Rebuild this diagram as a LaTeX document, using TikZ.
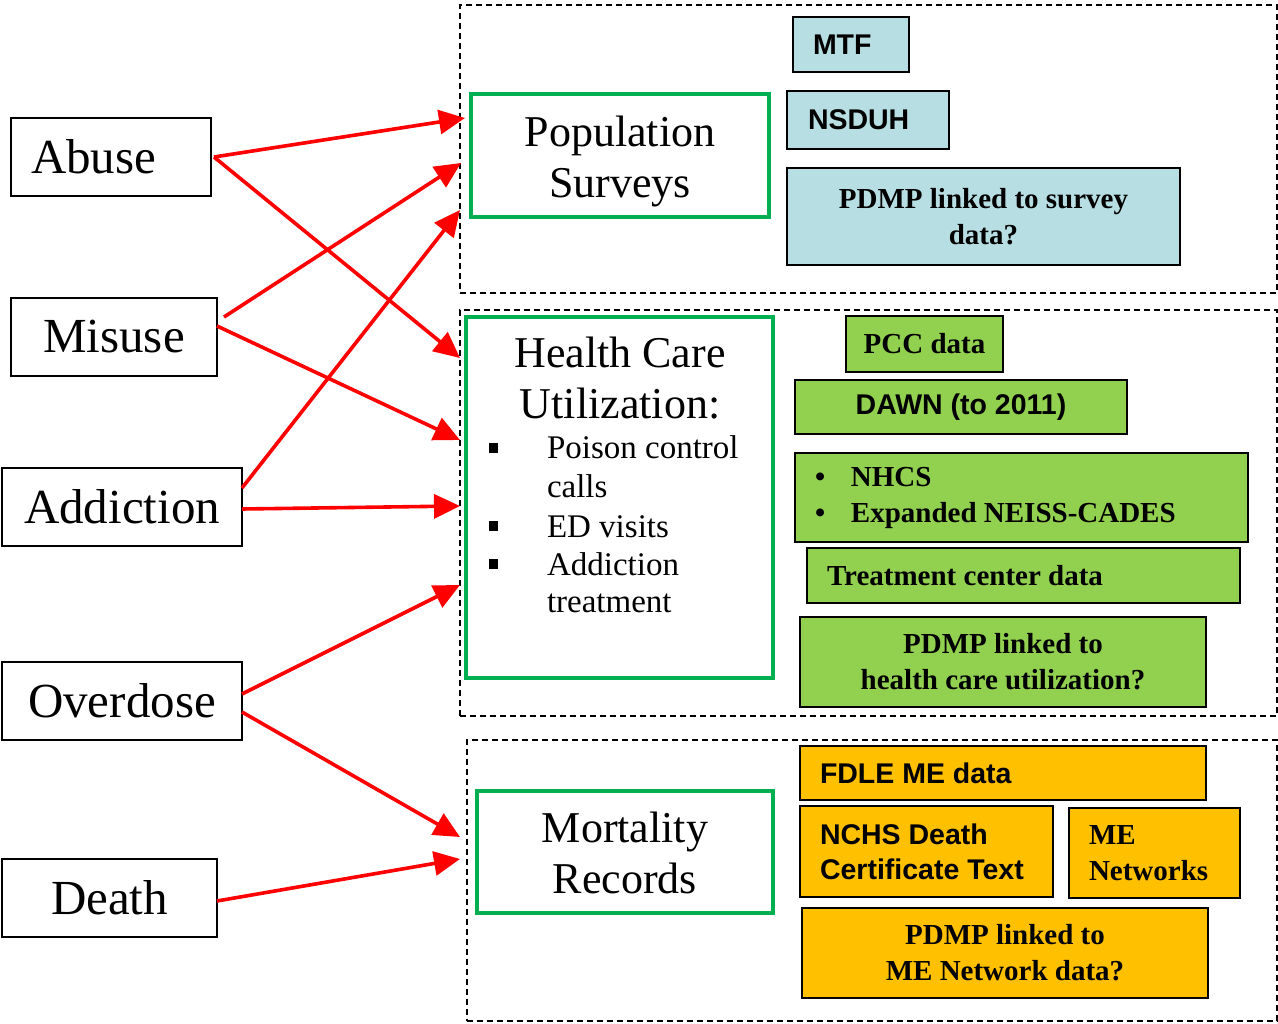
\documentclass[tikz,border=0pt]{standalone}
\usepackage{fontspec}
\setmainfont{Liberation Serif}
\newfontfamily\sansfam{Liberation Sans}
\usetikzlibrary{arrows.meta}
\definecolor{bluefill}{RGB}{183,222,226}
\definecolor{greenfill}{RGB}{146,208,80}
\definecolor{orangefill}{RGB}{255,192,0}
\definecolor{greenline}{RGB}{0,176,80}
\definecolor{redline}{RGB}{255,0,0}
\begin{document}
\begin{tikzpicture}[x=1pt,y=-1pt,
  every node/.style={inner sep=0pt, outer sep=0pt},
  srcbox/.style={draw=black, line width=1.6pt, rectangle, minimum height=78, font=\fontsize{49}{56}\selectfont},
  catbox/.style={draw=greenline, line width=3.2pt},
  grp/.style={draw=black, line width=1.2pt, dash pattern=on 6pt off 4pt},
  databox/.style={draw=black, line width=1.6pt},
  serb/.style={font=\fontsize{29}{36}\selectfont\bfseries},
  sanb/.style={font=\fontsize{28.5}{35}\selectfont\sansfam\bfseries},
  hctitle/.style={font=\fontsize{44}{50}\selectfont, anchor=base},
  hcitem/.style={font=\fontsize{33}{38}\selectfont, anchor=base west},
  sqbullet/.style={fill=black, minimum size=9.5},
  arr/.style={draw=redline, line width=3.6pt, -{Triangle[length=26pt,width=24pt]}},
]
\useasboundingbox (0,0) rectangle (1278,1024);

% group frames
\node[grp, minimum width=817, minimum height=288] (g1) at (868.5,149) {};
\node[grp, minimum width=817, minimum height=406] (g2) at (868.5,513) {};
\node[grp, minimum width=810, minimum height=281] (g3) at (872,880.5) {};

% source boxes
\node[srcbox, minimum width=200, text width=160, align=left] (abuse) at (111,157) {Abuse};
\node[srcbox, minimum width=206] (misuse) at (114,337) {Misuse};
\node[srcbox, minimum width=240] (addiction) at (122,507) {Addiction};
\node[srcbox, minimum width=240] (overdose) at (122,701) {Overdose};
\node[srcbox, minimum width=215] (death) at (109.5,898) {Death};

% category boxes
\node[catbox, minimum width=298, minimum height=123] (pop) at (620,155.5) {};
\node[catbox, minimum width=307, minimum height=361] (hcu) at (619.5,497.5) {};
\node[catbox, minimum width=296, minimum height=122] (mort) at (625,852) {};

% category titles
\node[hctitle] (popA) at (620,147) {Population};
\node[hctitle] (popB) at (620,198) {Surveys};
\node[hctitle] (mortA) at (625,842) {Mortality};
\node[hctitle] (mortB) at (625,893) {Records};
\node[hctitle] (hcuA) at (620,368) {Health Care};
\node[hctitle] (hcuB) at (620,418) {Utilization:};

% health care utilization list
\node[sqbullet] (hb1) at (493.5,448) {};
\node[sqbullet] (hb2) at (493.5,526) {};
\node[sqbullet] (hb3) at (493.5,564) {};
\node[hcitem] (hi1) at (547,458) {Poison control};
\node[hcitem] (hi2) at (547,497) {calls};
\node[hcitem] (hi3) at (547,537) {ED visits};
\node[hcitem] (hi4) at (547,575) {Addiction};
\node[hcitem] (hi5) at (547,612) {treatment};

% survey data boxes
\node[databox, fill=bluefill, sanb, minimum width=116, minimum height=55, text width=76, align=flush left] (mtf) at (851,44.5) {MTF};
\node[databox, fill=bluefill, sanb, minimum width=162, minimum height=58, text width=120, align=flush left] (nsduh) at (868,120) {NSDUH};
\node[databox, fill=bluefill, serb, minimum width=393, minimum height=97, align=center] (pdmp1) at (983.5,216.5) {PDMP linked to survey\\data?};

% health care data boxes
\node[databox, fill=greenfill, serb, minimum width=157, minimum height=56] (pcc) at (924.5,344) {PCC data};
\node[databox, fill=greenfill, sanb, minimum width=332, minimum height=54] (dawn) at (961,407) {DAWN (to 2011)};
\node[databox, fill=greenfill, serb, minimum width=453, minimum height=89, text width=413, align=flush left] (nhcs) at (1021.5,497.5) {\makebox[36pt][l]{\textbullet}NHCS\\\makebox[36pt][l]{\textbullet}Expanded NEISS-CADES};
\node[databox, fill=greenfill, serb, minimum width=433, minimum height=55, text width=393, align=flush left] (treat) at (1023.5,575.5) {Treatment center data};
\node[databox, fill=greenfill, serb, minimum width=406, minimum height=90, align=center] (pdmp2) at (1003,662) {PDMP linked to\\health care utilization?};

% mortality data boxes
\node[databox, fill=orangefill, sanb, minimum width=406, minimum height=54, text width=366, align=flush left] (fdle) at (1003,773) {FDLE ME data};
\node[databox, fill=orangefill, sanb, minimum width=253, minimum height=91, text width=213, align=flush left] (nchs) at (926.5,851.5) {NCHS Death\\Certificate Text};
\node[databox, fill=orangefill, serb, minimum width=171, minimum height=90, text width=131, align=flush left] (menet) at (1154.5,853) {ME\\Networks};
\node[databox, fill=orangefill, serb, minimum width=406, minimum height=90, align=center] (pdmp3) at (1005,953) {PDMP linked to\\ME Network data?};

% arrow targets
\coordinate (t1) at (465,118);
\coordinate (t2) at (460,358);
\coordinate (t3) at (461,163);
\coordinate (t4) at (460,440);
\coordinate (t5) at (460,210);
\coordinate (t6) at (460,506);
\coordinate (t7) at (460,585);
\coordinate (t8) at (460,837);
\coordinate (t9) at (460,859);

% arrows
\draw[arr] ([xshift=3pt]abuse.east) -- (t1);
\draw[arr] ([xshift=3pt]abuse.east) -- (t2);
\draw[arr] ([xshift=7pt,yshift=20pt]misuse.east) -- (t3);
\draw[arr] ([yshift=11pt]misuse.east) -- (t4);
\draw[arr] ([yshift=19pt]addiction.east) -- (t5);
\draw[arr] ([yshift=-2pt]addiction.east) -- (t6);
\draw[arr] ([yshift=7pt]overdose.east) -- (t7);
\draw[arr] ([yshift=-11pt]overdose.east) -- (t8);
\draw[arr] ([yshift=-3pt]death.east) -- (t9);
\end{tikzpicture}
\end{document}
